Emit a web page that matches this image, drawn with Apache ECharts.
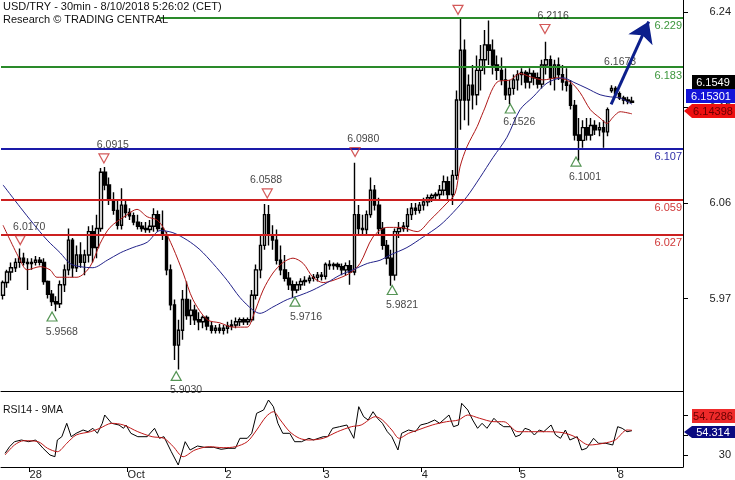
<!DOCTYPE html>
<html><head><meta charset="utf-8">
<script src="https://cdn.jsdelivr.net/npm/echarts@6/dist/echarts.min.js"></script>
<style>html,body{margin:0;padding:0;background:#fff}#c{width:735px;height:480px}</style>
</head><body><div id="c"></div>
<script>
// ---- hourly bar sessions (category axis) ----
const sessions = [['Sep 27',17,24],['Sep 28',0,24],['Oct 1',0,24],['Oct 2',0,24],['Oct 3',0,24],['Oct 4',0,24],['Oct 5',0,24],['Oct 8',0,16]];
// ---- OHLC ----
const opens = [5.973,5.985,5.995,5.999,6.004,6.008,6.004,6.003,6.004,6.006,
6.004,5.986,5.974,5.967,5.965,5.983,5.997,6.025,5.999,6.011,
6.004,6.011,6.033,6.018,6.036,6.089,6.077,6.063,6.053,6.039,
6.058,6.051,6.048,6.042,6.038,6.036,6.035,6.038,6.049,6.036,
6.030,5.997,5.964,5.926,5.940,5.969,5.954,5.959,5.950,5.948,
5.952,5.944,5.940,5.942,5.940,5.942,5.944,5.945,5.948,5.950,
5.948,5.950,5.973,5.997,6.020,6.049,6.030,6.025,6.006,5.997,
5.989,5.983,5.978,5.983,5.986,5.987,5.989,5.990,5.992,5.991,
6.002,6.001,6.002,6.000,5.997,6.001,5.995,6.049,6.036,6.035,
6.049,6.072,6.058,6.036,6.020,6.008,5.992,6.033,6.036,6.038,
6.049,6.055,6.053,6.058,6.061,6.065,6.067,6.068,6.072,6.080,
6.068,6.086,6.157,6.204,6.157,6.171,6.162,6.185,6.195,6.209,
6.204,6.190,6.185,6.176,6.162,6.168,6.176,6.181,6.183,6.174,
6.182,6.178,6.172,6.190,6.195,6.178,6.190,6.181,6.174,6.171,
6.152,6.124,6.119,6.131,6.124,6.133,6.129,6.131,6.127,6.166,
6.168,6.163,6.159,6.157,6.156];
const highs = [5.987,5.997,6.004,6.008,6.017,6.013,6.008,6.008,6.010,6.009,
6.008,5.987,5.978,5.972,5.987,6.002,6.036,6.027,6.020,6.023,
6.016,6.038,6.039,6.049,6.093,6.094,6.084,6.070,6.063,6.074,
6.063,6.055,6.051,6.049,6.042,6.042,6.044,6.055,6.053,6.053,
6.033,6.002,5.969,5.950,5.978,5.986,5.969,5.964,5.957,5.954,
5.954,5.948,5.945,5.946,5.945,5.948,5.950,5.952,5.952,5.952,
5.952,5.978,6.002,6.030,6.059,6.058,6.039,6.035,6.020,6.011,
5.995,5.987,5.986,5.989,5.991,5.992,5.993,5.995,5.995,6.004,
6.006,6.004,6.004,6.003,6.004,6.006,6.098,6.058,6.049,6.053,
6.084,6.077,6.065,6.042,6.025,6.016,6.036,6.042,6.042,6.055,
6.060,6.060,6.061,6.065,6.068,6.069,6.070,6.077,6.086,6.085,
6.091,6.166,6.234,6.214,6.181,6.190,6.199,6.209,6.223,6.232,
6.214,6.199,6.197,6.187,6.176,6.181,6.185,6.187,6.185,6.187,
6.185,6.183,6.195,6.212,6.199,6.195,6.197,6.190,6.187,6.176,
6.157,6.140,6.138,6.140,6.140,6.138,6.136,6.138,6.150,6.171,
6.170,6.165,6.161,6.160,6.160];
const lows = [5.969,5.980,5.987,5.995,5.999,6.001,5.978,5.997,6.001,6.001,
5.983,5.970,5.963,5.958,5.961,5.976,5.992,5.990,5.995,5.999,
5.992,6.004,6.004,6.008,6.033,6.072,6.058,6.049,6.035,6.035,
6.046,6.044,6.039,6.035,6.033,6.032,6.032,6.033,6.033,6.025,
5.992,5.959,5.912,5.903,5.931,5.950,5.945,5.945,5.940,5.942,
5.940,5.937,5.937,5.937,5.936,5.937,5.940,5.942,5.944,5.945,
5.945,5.948,5.969,5.989,6.016,6.020,6.016,6.002,5.992,5.986,
5.978,5.971,5.975,5.978,5.982,5.984,5.986,5.986,5.987,5.988,
5.997,5.997,5.997,5.992,5.992,5.983,5.992,6.030,6.030,6.030,
6.046,6.053,6.030,6.016,6.002,5.982,5.987,6.027,6.033,6.033,
6.044,6.049,6.050,6.053,6.057,6.061,6.063,6.063,6.067,6.063,
6.058,6.082,6.129,6.138,6.133,6.148,6.152,6.166,6.181,6.190,
6.181,6.176,6.171,6.157,6.153,6.162,6.166,6.171,6.168,6.168,
6.171,6.168,6.168,6.181,6.171,6.166,6.176,6.166,6.165,6.148,
6.119,6.100,6.112,6.119,6.119,6.124,6.123,6.112,6.123,6.164,
6.161,6.157,6.153,6.153,6.154];
const closes = [5.985,5.995,5.999,6.004,6.008,6.004,6.003,6.004,6.006,6.004,
5.986,5.974,5.967,5.965,5.983,5.997,6.025,5.999,6.011,6.004,
6.011,6.033,6.018,6.036,6.089,6.077,6.063,6.053,6.039,6.058,
6.051,6.048,6.042,6.038,6.036,6.035,6.038,6.049,6.036,6.030,
5.997,5.964,5.926,5.940,5.969,5.954,5.959,5.950,5.948,5.952,
5.944,5.940,5.942,5.940,5.942,5.944,5.945,5.948,5.950,5.948,
5.950,5.973,5.997,6.020,6.049,6.030,6.025,6.006,5.997,5.989,
5.983,5.978,5.983,5.986,5.987,5.989,5.990,5.992,5.991,6.002,
6.001,6.002,6.000,5.997,6.001,5.995,6.049,6.036,6.035,6.049,
6.072,6.058,6.036,6.020,6.008,5.992,6.033,6.036,6.038,6.049,
6.055,6.053,6.058,6.061,6.065,6.067,6.068,6.072,6.080,6.068,
6.086,6.157,6.204,6.157,6.171,6.162,6.185,6.195,6.209,6.204,
6.190,6.185,6.176,6.162,6.168,6.176,6.181,6.183,6.174,6.182,
6.178,6.172,6.190,6.195,6.178,6.190,6.181,6.174,6.171,6.152,
6.124,6.119,6.131,6.124,6.133,6.129,6.131,6.127,6.148,6.168,
6.163,6.159,6.157,6.156,6.155];
// ---- moving averages [barIndex, price] ----
const redMA = [[0,6.039],[4.2,6.006],[5.9,5.997],[9.1,6.000],[11.5,5.997],[13.2,5.990],[15.7,5.990],[18.1,5.990],[21.3,6.000],[23.8,6.022],[26.2,6.037],[30.4,6.049],[32.8,6.054],[35.3,6.047],[37.7,6.044],[39.2,6.037],[41.6,6.018],[44.1,5.994],[46.5,5.969],[50,5.950],[53.1,5.947],[56.3,5.943],[59.8,5.943],[61.2,5.953],[63.7,5.978],[66.1,5.994],[68.6,6.004],[71,6.008],[73.5,6.003],[75.9,5.990],[78.4,5.985],[80.8,5.987],[85,5.994],[87.4,6.003],[90.6,6.028],[94,6.037],[97.2,6.037],[101.4,6.033],[104.6,6.044],[108.7,6.060],[110.7,6.069],[111.9,6.094],[113.6,6.113],[116.1,6.132],[117.6,6.146],[121,6.174],[124.2,6.176],[126.6,6.182],[129.1,6.179],[132.3,6.176],[135.7,6.178],[138.9,6.174],[141.3,6.164],[143.8,6.148],[146.2,6.140],[147.9,6.135],[149.4,6.141],[151.1,6.146],[154,6.144]];
const blueMA = [[0,6.077],[4.2,6.056],[7.3,6.041],[10.8,6.025],[14,6.013],[16.4,6.003],[18.9,6.000],[22,5.999],[25.5,6.006],[28.7,6.013],[31.8,6.018],[35.3,6.023],[38.5,6.034],[41.6,6.032],[45.1,6.025],[48.2,6.016],[51.4,6.003],[54.9,5.987],[58,5.971],[61.2,5.959],[62.9,5.956],[66.1,5.962],[69.6,5.969],[72.7,5.973],[75.9,5.978],[79.4,5.985],[82.5,5.992],[85.7,5.997],[89.2,6.003],[92.3,6.006],[94.8,6.011],[98.9,6.018],[102.9,6.028],[107,6.039],[110.2,6.051],[113.6,6.066],[116.8,6.084],[120,6.103],[123.4,6.122],[126.6,6.148],[129.8,6.160],[133.2,6.173],[137.1,6.178],[139.6,6.174],[143,6.168],[146.2,6.162],[148.7,6.160],[151.1,6.159],[154,6.153]];
// ---- support / resistance levels ----
const levelValues = [6.235, 6.188, 6.111, 6.0635, 6.030];
const levelLabels = ['6.229','6.183','6.107','6.059','6.027'];
const levelStarts = [38.5, -0.5, -0.5, -0.5, -0.5];
// ---- pivots ----
const downMarks = [[4.2,6.025],[24.7,6.102],[64.7,6.069],[86.2,6.108],[111.4,6.242],[132.7,6.224]];
const upMarks = [[12.0,5.953],[42.4,5.897],[71.5,5.967],[95.3,5.978],[124.2,6.149],[140.3,6.099]];
const pivotTexts = ['6.0170','5.9568','6.0915','5.9030','6.0588','5.9716','6.0980','5.9821','6.2350','6.1526','6.2116','6.1001','6.1673'];
const pivotTextPos = [[6.4,6.037],[14.4,5.938],[26.9,6.115],[44.8,5.884],[64.4,6.082],[74.2,5.952],[88.2,6.120],[97.7,5.964],[114.4,6.254],[126.4,6.136],[134.7,6.236],[142.5,6.084],[151.1,6.193]];
// ---- forecast arrow ----
const forecastFrom = [148.9, 6.153];
const forecastTo = [158.1, 6.231];
// ---- RSI ----
const rsiValues = [[0.5,31.7],[1.6,38.3],[2.8,43.3],[4.5,45],[6.3,43.3],[8,45],[9.8,36.7],[11.5,30],[12.7,28.3],[13.3,45],[14.4,48.3],[15.6,61.7],[16.7,48.3],[17.9,51.7],[19.6,55],[20.8,53.3],[22,56.7],[23.1,51.7],[24.3,61.7],[24.9,70],[26.6,61.7],[28.4,60],[29.5,56.7],[30.1,60],[31.3,51.7],[33,48.3],[35.3,48.3],[37.1,56.7],[38.3,46.7],[39.4,48.3],[41.2,33.3],[42.9,20],[44.6,43.3],[45.8,35],[47.6,39],[49.3,37.7],[51.6,37.7],[53.4,35.7],[55.1,36.7],[56.9,36.7],[58,46.7],[59.8,46.7],[60.9,51.7],[62.1,71.7],[63.8,75],[65,85],[66.2,78.3],[67.3,61.7],[68.5,51.7],[70.2,51.7],[71.4,43.3],[73.1,43.3],[74.9,46.7],[76,45],[78.4,48.3],[79.5,48.3],[80.7,56.7],[82.4,58.3],[84.2,60],[85.9,46.7],[87.1,78.3],[88.3,68.3],[89.4,65],[90.6,73.3],[91.7,66.7],[92.9,61.7],[94.1,53.3],[95.2,48.3],[96.7,35],[97.6,51.7],[99.3,55],[101,53.3],[102.2,60],[103.9,61.7],[105.7,65],[106.9,61.7],[109.2,70],[110.3,58.3],[111.5,60],[112.3,81.7],[113.8,75],[115,65],[116.2,56.7],[117.3,61.7],[118.5,56.7],[120.2,66.7],[121.4,61.7],[122.6,58.3],[124.3,58.3],[125.5,48.3],[126.6,50],[127.8,56.7],[129,55],[130.1,50],[131.3,55],[132.4,53.3],[134.2,60],[135.3,50],[136.5,46.7],[137.7,55],[138.8,45],[140.6,48.3],[141.7,35],[142.9,36.7],[144.6,46.7],[145.8,41.7],[147.6,41.7],[149.3,40],[150.5,58.3],[151.6,56.7],[152.8,53.3],[154,54.3]];
const rsiMA = [[0.5,30],[2.8,40],[5.1,44.3],[8.6,43.3],[10.9,36.7],[13.3,33.3],[15.6,41.7],[17.9,50],[21.4,53.3],[23.7,56.7],[26.6,61.7],[29.5,60],[33,53.3],[36.5,48.3],[39.4,46.7],[41.7,38.3],[44.1,28.3],[47,35],[50.5,38.3],[53.9,37.3],[56.9,38.3],[59.8,43.3],[62.1,55],[64.4,68.3],[66.2,73.3],[67.9,65],[70.2,53.3],[72.6,46.7],[74.9,45],[78.4,46.7],[81.9,53.3],[85.3,58.3],[87.7,60],[91.2,68.3],[92.9,65],[95.2,55],[97,46.7],[99.3,51.7],[101.6,55],[105.1,60],[108.6,63.3],[111.5,65],[113.8,70],[116.7,66.7],[120.2,63.3],[122.6,63.3],[126.1,53.3],[129.5,53.3],[133,53.3],[137.1,52.3],[140,48.3],[143.5,40],[147,41.7],[149.9,45],[152.8,55],[154,54.7]];
// ---- ticks ----
const dayTicks = [6.5, 30.5, 54.5, 78.5, 102.5, 126.5, 150.5];
const dayLabels = ['28','Oct','2','3','4','5','8'];
const priceTicks = [5.97, 6.06, 6.15, 6.24];
const rsiTicks = [30, 50, 70];
const priceTags = ['6.1549','6.15301','6.14398'];
const rsiTags = ['54.7286','54.314'];
const titleLines = ['USD/TRY - 30min - 8/10/2018 5:26:02 (CET)', 'Research \u00A9 TRADING CENTRAL'];
const rsiTitle = 'RSI14 - 9MA';

// ---- build ----
const FONT = '"Liberation Sans", Arial, sans-serif';
const categories = [];
sessions.forEach(s => { for (let h = s[1]; h < s[2]; h++) categories.push(s[0] + ' ' + h + ':00'); });
const candleData = opens.map((o, k) => [o, closes[k], lows[k], highs[k]]);
const levelColors = ['#2a8a2a','#2a8a2a','#1a1aa8','#cc2020','#cc2020'];
const levelTextColors = ['#3c963c','#3c963c','#3030a8','#d03838','#d03838'];

const chart = echarts.init(document.getElementById('c'));
const txt = (x, y, text, fill, size, align, valign) => ({
  type: 'text', x: x, y: y, z: 101,
  style: { text: text, fill: fill, font: size + 'px ' + FONT, textAlign: align, align: align, textVerticalAlign: valign, verticalAlign: valign }
});
chart.setOption({
  animation: false,
  backgroundColor: '#fff',
  grid: [{left: 1, right: 52, top: 0, height: 391}, {left: 1, right: 52, top: 391, height: 76}],
  xAxis: [
    {type: 'category', gridIndex: 0, data: categories, boundaryGap: true,
     axisLine: {show: true, onZero: false, lineStyle: {color: '#000', width: 1}}, axisTick: {show: false}, axisLabel: {show: false}, splitLine: {show: false}},
    {type: 'value', gridIndex: 0, min: -0.5, max: 166.5, show: false},
    {type: 'value', gridIndex: 1, min: -0.5, max: 166.5,
     axisLine: {show: true, onZero: false, lineStyle: {color: '#000', width: 1}},
     axisTick: {show: true, customValues: dayTicks, length: 5, lineStyle: {color: '#000'}},
     axisLabel: {show: true, customValues: dayTicks, align: 'left', margin: 2, color: '#222', fontSize: 11, fontFamily: FONT,
       formatter: v => { const k = dayTicks.findIndex(t => Math.abs(t - v) < 0.01); return k < 0 ? '' : dayLabels[k]; }},
     splitLine: {show: false}}
  ],
  yAxis: [
    {type: 'value', gridIndex: 0, position: 'right', min: 5.8828, max: 6.2513, scale: true,
     axisLine: {show: true, onZero: false, lineStyle: {color: '#000', width: 1}},
     axisTick: {show: true, customValues: priceTicks, length: 5, lineStyle: {color: '#000'}},
     axisLabel: {show: true, customValues: priceTicks, formatter: v => v.toFixed(2), align: 'right', margin: 48, color: '#222', fontSize: 11, fontFamily: FONT},
     splitLine: {show: false}},
    {type: 'value', gridIndex: 1, position: 'right', min: 18, max: 94,
     axisLine: {show: true, onZero: false, lineStyle: {color: '#000', width: 1}},
     axisTick: {show: true, customValues: rsiTicks, length: 5, lineStyle: {color: '#000'}},
     axisLabel: {show: true, customValues: rsiTicks, align: 'right', margin: 48, color: '#222', fontSize: 11, fontFamily: FONT},
     splitLine: {show: false}}
  ],
  series: [
    {type: 'candlestick', xAxisIndex: 0, yAxisIndex: 0, data: candleData, barWidth: 3,
     itemStyle: {color: '#fff', color0: '#000', borderColor: '#000', borderColor0: '#000', borderWidth: 1.4}},
    {type: 'line', xAxisIndex: 1, yAxisIndex: 0, data: redMA, smooth: 0.3, symbol: 'none', lineStyle: {color: '#b01818', width: 1}, z: 4},
    {type: 'line', xAxisIndex: 1, yAxisIndex: 0, data: blueMA, smooth: 0.3, symbol: 'none', lineStyle: {color: '#22228a', width: 1}, z: 4,
     markLine: {silent: true, symbol: ['none','none'], animation: false,
       data: levelValues.map((v, k) => [
         {coord: [levelStarts[k], v], lineStyle: {color: levelColors[k], width: 2, type: 'solid'},
          label: {show: true, formatter: levelLabels[k], position: 'insideEndBottom', distance: [1, 3], color: levelTextColors[k], fontSize: 11, fontFamily: FONT}},
         {coord: [166.5, v]}
       ])}},
    {type: 'scatter', xAxisIndex: 1, yAxisIndex: 0, data: downMarks, symbol: 'triangle', symbolSize: [10, 9], symbolRotate: 180, clip: false,
     itemStyle: {color: 'rgba(255,255,255,0)', borderColor: '#c83030', borderWidth: 1.2}, z: 6},
    {type: 'scatter', xAxisIndex: 1, yAxisIndex: 0, data: upMarks, symbol: 'triangle', symbolSize: [10, 9], clip: false,
     itemStyle: {color: 'rgba(255,255,255,0)', borderColor: '#2a7a2a', borderWidth: 1.2}, z: 6},
    {type: 'scatter', xAxisIndex: 1, yAxisIndex: 0, clip: false, symbolSize: 1, itemStyle: {color: 'rgba(0,0,0,0)'}, z: 7,
     data: pivotTexts.map((t, k) => ({name: t, value: pivotTextPos[k]})),
     label: {show: true, position: 'inside', formatter: '{b}', color: '#111', fontSize: 10.5, fontFamily: FONT}},
    {type: 'lines', coordinateSystem: 'cartesian2d', xAxisIndex: 1, yAxisIndex: 0, z: 8,
     symbol: ['none', 'arrow'], symbolSize: 20,
     lineStyle: {color: '#0c1f8c', width: 3, opacity: 1, curveness: 0},
     data: [{coords: [forecastFrom, forecastTo]}]},
    {type: 'line', xAxisIndex: 2, yAxisIndex: 1, data: rsiValues, symbol: 'none', lineStyle: {color: '#000', width: 1}},
    {type: 'line', xAxisIndex: 2, yAxisIndex: 1, data: rsiMA, smooth: 0.3, symbol: 'none', lineStyle: {color: '#c01818', width: 1}}
  ],
  graphic: [
    txt(3, 1, titleLines[0], '#111', 11, 'left', 'top'),
    txt(3, 14, titleLines[1], '#111', 11, 'left', 'top'),
    txt(3, 405, rsiTitle, '#111', 10.5, 'left', 'top'),
    {type: 'rect', z: 100, shape: {x: 692, y: 75, width: 43, height: 14}, style: {fill: '#000'}},
    txt(713, 82.5, priceTags[0], '#fff', 11, 'center', 'middle'),
    {type: 'rect', z: 100, shape: {x: 686, y: 89, width: 49, height: 14}, style: {fill: '#1414d8'}},
    txt(711, 96.5, priceTags[1], '#fff', 11, 'center', 'middle'),
    {type: 'polygon', z: 100, shape: {points: [[684, 111], [692, 104], [735, 104], [735, 118], [692, 118]]}, style: {fill: '#ee1010'}},
    txt(713, 111.5, priceTags[2], '#6a0000', 11, 'center', 'middle'),
    {type: 'rect', z: 100, shape: {x: 692, y: 409, width: 43, height: 14}, style: {fill: '#ee2a2a'}},
    txt(713, 416.5, rsiTags[0], '#6a0000', 11, 'center', 'middle'),
    {type: 'polygon', z: 100, shape: {points: [[684, 432], [692, 426], [735, 426], [735, 438], [692, 438]]}, style: {fill: '#0a0a80'}},
    txt(713, 432.5, rsiTags[1], '#fff', 11, 'center', 'middle')
  ]
});
</script></body></html>
